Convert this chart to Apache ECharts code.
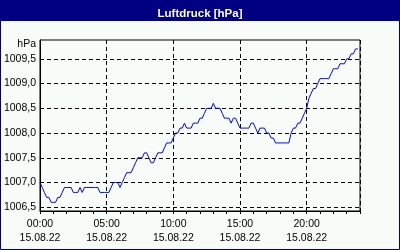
<!DOCTYPE html>
<html><head><meta charset="utf-8">
<script src="https://cdn.jsdelivr.net/npm/echarts@6/dist/echarts.min.js"></script>
<style>html,body{margin:0;padding:0;background:#f8fcf8}#c{width:400px;height:250px}</style>
</head><body><div id="c"></div>
<script>
// Data
var chartTitle = 'Luftdruck [hPa]';
var yUnit = 'hPa';
var dateLabel = '15.08.22';
var stepMinutes = 10; // readings every 10 minutes starting 00:00
var pressure = [
 1007.0,1006.9,1006.8,1006.7,1006.7,1006.6,1006.6,1006.6,1006.7,1006.7,
 1006.8,1006.9,1006.9,1006.9,1006.9,1006.8,1006.8,1006.8,1006.9,1006.8,
 1006.9,1006.9,1006.9,1006.9,1006.9,1006.9,1006.9,1006.8,1006.8,1006.8,
 1006.8,1006.8,1006.9,1007.0,1007.0,1007.0,1006.9,1007.0,1007.1,1007.2,
 1007.2,1007.2,1007.3,1007.4,1007.5,1007.5,1007.5,1007.6,1007.6,1007.5,
 1007.4,1007.4,1007.5,1007.6,1007.6,1007.6,1007.7,1007.8,1007.8,1007.8,
 1007.9,1008.0,1008.0,1008.1,1008.1,1008.2,1008.1,1008.1,1008.1,1008.2,
 1008.2,1008.2,1008.3,1008.3,1008.4,1008.5,1008.5,1008.5,1008.6,1008.5,
 1008.5,1008.5,1008.4,1008.3,1008.3,1008.3,1008.2,1008.3,1008.3,1008.2,
 1008.1,1008.1,1008.1,1008.1,1008.1,1008.2,1008.2,1008.1,1008.0,1008.1,
 1008.1,1008.1,1008.0,1008.0,1007.9,1007.9,1007.8,1007.8,1007.8,1007.8,
 1007.8,1007.8,1007.8,1008.0,1008.1,1008.1,1008.2,1008.2,1008.3,1008.4,
 1008.5,1008.7,1008.8,1008.9,1008.9,1009.0,1009.1,1009.1,1009.1,1009.1,
 1009.1,1009.2,1009.3,1009.3,1009.3,1009.4,1009.4,1009.4,1009.5,1009.5,
 1009.6,1009.6,1009.7,1009.7
];
var yTicks = [1006.5,1007.0,1007.5,1008.0,1008.5,1009.0,1009.5];
var xTickHours = [0,5,10,15,20];

var seriesData = pressure.map(function(v,i){ return [i*stepMinutes/60, v]; });
function pad(n){ return (n<10?'0':'')+n; }
var font = 'Liberation Sans';
var fs = 10.5;

var chart = echarts.init(document.getElementById('c'), null, {renderer:'canvas'});
chart.setOption({
  backgroundColor:'#f8fcf8',
  animation:false,
  textStyle:{fontFamily:font},
  title:{text:chartTitle, left:'center', top:3, textStyle:{color:'#ffffff', fontSize:11.5, fontWeight:'bold', fontFamily:font}},
  graphic:[
    {type:'rect', z:-1, shape:{x:0,y:0,width:400,height:21}, style:{fill:'#000080'}},
    {type:'rect', z:10, shape:{x:0.5,y:0.5,width:399,height:249}, style:{fill:null, stroke:'#000080', lineWidth:1}},
    {type:'text', right:364, top:39, style:{text:yUnit, fill:'#000', font:fs+'px '+font, textAlign:'right'}}
  ],
  grid:{left:40, right:40, top:40, bottom:39, show:true, borderColor:'#000', borderWidth:1, backgroundColor:'transparent'},
  xAxis:{
    type:'value', min:0, max:24, interval:5,
    axisLine:{show:true, lineStyle:{color:'#000', width:1}},
    axisTick:{show:true, inside:false, length:3, lineStyle:{color:'#000'}},
    minorTick:{show:true, splitNumber:5, length:3, lineStyle:{color:'#000'}},
    splitLine:{show:true, lineStyle:{color:'#000', type:[4,3], width:1}},
    axisLabel:{color:'#000', fontSize:fs, fontFamily:font, margin:6, lineHeight:14, showMaxLabel:false,
      formatter:function(v){ return xTickHours.indexOf(v)>=0 ? pad(v)+':00\n'+dateLabel : ''; }}
  },
  yAxis:{
    type:'value', min:1006.425, max:1009.88,
    axisLine:{show:true, lineStyle:{color:'#000'}},
    axisTick:{show:false, customValues:yTicks},
    splitLine:{show:true, customValues:yTicks, lineStyle:{color:'#000', type:[4,3], width:1}},
    axisLabel:{color:'#000', fontSize:fs, fontFamily:font, margin:4, customValues:yTicks,
      formatter:function(v){ return v.toFixed(1).replace('.',','); }}
  },
  series:[{
    type:'line', data:seriesData, showSymbol:false, symbol:'none',
    lineStyle:{color:'#0000ff', width:1}, silent:true
  }]
});
</script></body></html>
